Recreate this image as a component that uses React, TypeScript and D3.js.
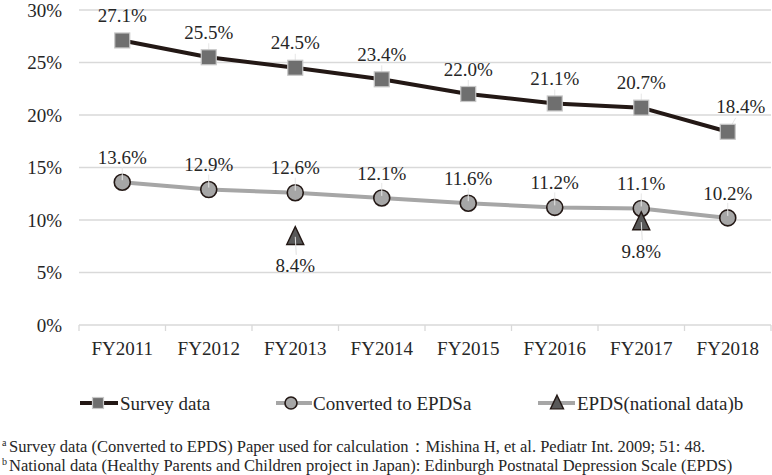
import React from "react";
import * as d3 from "d3";

const categories = ["FY2011", "FY2012", "FY2013", "FY2014", "FY2015", "FY2016", "FY2017", "FY2018"];
const surveyData = [27.1, 25.5, 24.5, 23.4, 22.0, 21.1, 20.7, 18.4];
const convertedData = [13.6, 12.9, 12.6, 12.1, 11.6, 11.2, 11.1, 10.2];
const epdsData: (number | null)[] = [null, null, 8.4, null, null, null, 9.8, null];
const yTicks = [0, 5, 10, 15, 20, 25, 30];
const legendLabels = ["Survey data", "Converted to EPDSa", "EPDS(national data)b"];
const footnotes = [
  { sup: "a", text: "Survey data (Converted to EPDS) Paper used for calculation\uFF1AMishina H, et al. Pediatr Int. 2009; 51: 48." },
  { sup: "b", text: "National data (Healthy Parents and Children project in Japan): Edinburgh Postnatal Depression Scale (EPDS)" },
];

const W = 772;
const H = 475;
const FONT = "Liberation Serif";
const SURVEY_LINE = "#231815";
const SURVEY_FILL = "#6f6f6f";
const SURVEY_STROKE = "#c8c8c8";
const CONV_LINE = "#a6a6a6";
const CONV_FILL = "#a6a6a6";
const TRI_FILL = "#595959";
const DARK = "#231815";
const TXT = { fontFamily: FONT } as React.CSSProperties;

export default function App() {
  const x = d3.scaleBand<string>().domain(categories).range([79, 771]);
  const y = d3.scaleLinear().domain([0, 30]).range([325, 10]);
  const cx = (c: string) => (x(c) as number) + x.bandwidth() / 2;

  const line = d3
    .line<number>()
    .x((_, i) => cx(categories[i]))
    .y((d) => y(d));

  const square = (px: number, py: number, s: number, key?: string) => (
    <rect key={key} x={px - s / 2} y={py - s / 2} width={s} height={s} fill={SURVEY_FILL} stroke={SURVEY_STROKE} strokeWidth={1.2} />
  );
  const circle = (px: number, py: number, r: number, key?: string) => (
    <circle key={key} cx={px} cy={py} r={r} fill={CONV_FILL} stroke={DARK} strokeWidth={1.6} />
  );
  const tri = (px: number, py: number, s: number, key?: string) => (
    <path
      key={key}
      d={`M${px},${py - s * 0.6} L${px + s / 2},${py + s * 0.45} L${px - s / 2},${py + s * 0.45} Z`}
      fill={TRI_FILL}
      stroke={DARK}
      strokeWidth={1.4}
    />
  );

  const legendY = 403;

  return (
    <svg width={W} height={H} style={{ position: "absolute", left: 0, top: 0, background: "#fff" }}>
      <rect x={0} y={0} width={W} height={H} fill="#fff" />
      {yTicks.map((t) => (
        <g key={t}>
          <line x1={79} x2={771} y1={y(t)} y2={y(t)} stroke="#d9d9d9" strokeWidth={1.3} />
          <text style={TXT} x={62} y={y(t)} dy="0.35em" textAnchor="end" fontSize={19} fill="#262626">
            {t}%
          </text>
        </g>
      ))}
      {d3.range(categories.length + 1).map((i) => {
        const xx = 79 + i * x.bandwidth();
        return <line key={i} x1={xx} x2={xx} y1={y(0)} y2={y(0) + 6} stroke="#d9d9d9" strokeWidth={1.3} />;
      })}
      {categories.map((c) => (
        <text style={TXT} key={c} x={cx(c)} y={348} dy="0.35em" textAnchor="middle" fontSize={19} fill="#262626">
          {c}
        </text>
      ))}

      <path d={line(convertedData) || ""} fill="none" stroke={CONV_LINE} strokeWidth={4} strokeLinejoin="round" />
      <path d={line(surveyData) || ""} fill="none" stroke={SURVEY_LINE} strokeWidth={4} strokeLinejoin="round" />

      {surveyData.map((v, i) =>
        i === 0 ? null : (
          <line key={"sl" + i} x1={cx(categories[i]) + (i === 7 ? 8 : 0)} y1={y(v) - 14} x2={cx(categories[i])} y2={y(v)} stroke="#e6e6e6" strokeWidth={1} />
        )
      )}

      {surveyData.map((v, i) => square(cx(categories[i]), y(v), 15, "s" + i))}
      {convertedData.map((v, i) => circle(cx(categories[i]), y(v), 8, "c" + i))}
      {epdsData.map((v, i) => (v == null ? null : tri(cx(categories[i]), y(v), 17, "t" + i)))}

      {convertedData.map((v, i) => (
        <line key={"cl" + i} x1={cx(categories[i])} y1={y(v) - 15} x2={cx(categories[i])} y2={y(v) - 2} stroke="#e6e6e6" strokeWidth={1} />
      ))}
      {epdsData.map((v, i) =>
        v == null ? null : (
          <line key={"tl" + i} x1={cx(categories[i])} y1={y(v)} x2={cx(categories[i]) + 1} y2={y(v) + 18} stroke="#e0e0e0" strokeWidth={1} />
        )
      )}

      {surveyData.map((v, i) => (
        <text style={TXT} key={"slb" + i} x={cx(categories[i]) + (i === 7 ? 13 : 0)} y={y(v) - 25} dy="0.35em" textAnchor="middle" fontSize={19} fill="#262626">
          {v.toFixed(1)}%
        </text>
      ))}
      {convertedData.map((v, i) => (
        <text style={TXT} key={"clb" + i} x={cx(categories[i])} y={y(v) - 25} dy="0.35em" textAnchor="middle" fontSize={19} fill="#262626">
          {v.toFixed(1)}%
        </text>
      ))}
      {epdsData.map((v, i) =>
        v == null ? null : (
          <text style={TXT} key={"tlb" + i} x={cx(categories[i])} y={y(v) + 29} dy="0.35em" textAnchor="middle" fontSize={19} fill="#262626">
            {v.toFixed(1)}%
          </text>
        )
      )}

      <g>
        <line x1={80} x2={118} y1={legendY} y2={legendY} stroke={SURVEY_LINE} strokeWidth={4} />
        {square(98, legendY, 11)}
        <text style={TXT} x={120} y={legendY} dy="0.35em" fontSize={19} fill="#262626">{legendLabels[0]}</text>

        <line x1={276} x2={312} y1={legendY} y2={legendY} stroke={CONV_LINE} strokeWidth={4} />
        {circle(291, legendY, 6)}
        <text style={TXT} x={313} y={legendY} dy="0.35em" fontSize={19} fill="#262626">{legendLabels[1]}</text>

        <line x1={538} x2={575} y1={legendY} y2={legendY} stroke={CONV_LINE} strokeWidth={4} />
        {tri(557, legendY, 13)}
        <text style={TXT} x={577} y={legendY} dy="0.35em" fontSize={19} fill="#262626">{legendLabels[2]}</text>
      </g>

      {footnotes.map((f, i) => (
        <g key={f.sup}>
          <text style={TXT} x={2} y={446 + i * 19} fontSize={10} fill="#262626">{f.sup}</text>
          <text style={TXT} x={9} y={452 + i * 19} fontSize={16.5} fill="#262626">{f.text}</text>
        </g>
      ))}
    </svg>
  );
}
